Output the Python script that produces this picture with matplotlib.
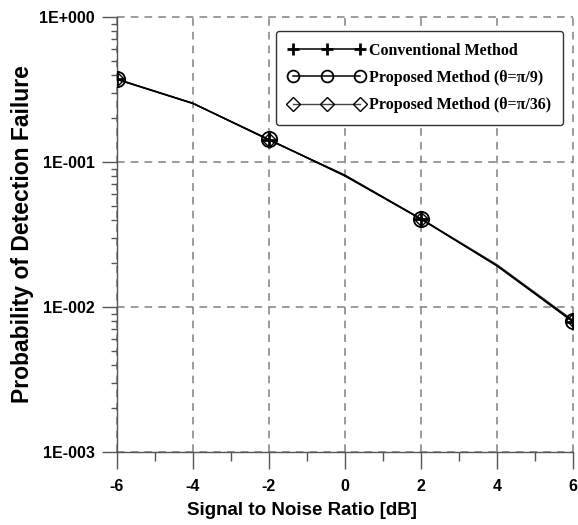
import numpy as np
import matplotlib
matplotlib.use("Agg")
import matplotlib.pyplot as plt
from matplotlib.ticker import FixedLocator, FuncFormatter, LogLocator, NullFormatter

snr = [-6, -4, -2, 0, 2, 4, 6]
conventional = [0.372, 0.254, 0.142, 0.081, 0.0405, 0.0192, 0.0079]
proposed_9 = [0.371, 0.253, 0.143, 0.080, 0.0404, 0.0193, 0.0080]
proposed_36 = [0.373, 0.254, 0.142, 0.081, 0.0406, 0.0196, 0.0081]
labels = ["Conventional Method",
          "Proposed Method (\u03b8=\u03c0/9)",
          "Proposed Method (\u03b8=\u03c0/36)"]

fig = plt.figure(figsize=(5.78, 5.25), dpi=100)
ax = fig.add_axes([117/578, 1-452/525, 456/578, 435/525])

ax.plot(snr, conventional, color="black", lw=1.1, marker="+", ms=11, mew=2,
        markevery=2, label=labels[0], zorder=4)
ax.plot(snr, proposed_9, color="black", lw=1.1, marker="o", ms=11, mew=1.3,
        mfc="none", markevery=2, label=labels[1], zorder=4)
ax.plot(snr, proposed_36, color="#444444", lw=1.0, marker="D", ms=7, mew=1.0,
        mfc="none", mec="black", markevery=2, label=labels[2], zorder=3)

ax.set_yscale("log")
ax.set_xlim(-6, 6)
ax.set_ylim(1e-3, 1)

ax.xaxis.set_major_locator(FixedLocator([-6, -4, -2, 0, 2, 4, 6]))
ax.xaxis.set_minor_locator(FixedLocator([-5, -3, -1, 1, 3, 5]))
ax.yaxis.set_major_locator(FixedLocator([1e-3, 1e-2, 1e-1, 1]))
ax.yaxis.set_minor_locator(LogLocator(base=10, subs=np.arange(2, 10)))
ax.yaxis.set_minor_formatter(NullFormatter())
ax.yaxis.set_major_formatter(FuncFormatter(lambda v, p: "1E%+04d" % int(round(np.log10(v)))))
ax.xaxis.set_major_formatter(FuncFormatter(lambda v, p: "%d" % v))

for s in ["top", "right"]:
    ax.spines[s].set_visible(False)
for s in ["left", "bottom"]:
    ax.spines[s].set_color("#555555")
    ax.spines[s].set_linewidth(1.0)

ax.tick_params(axis="y", which="major", length=11, width=1, color="#555555", pad=5)
ax.tick_params(axis="y", which="minor", length=4.5, width=1, color="#555555")
ax.tick_params(axis="x", which="major", length=12.5, width=1, color="#555555", pad=7)
ax.tick_params(axis="x", which="minor", length=6.5, width=1, color="#555555")
for t in ax.get_xticklabels() + ax.get_yticklabels():
    t.set_fontfamily("Liberation Sans")
    t.set_fontweight("bold")
    t.set_fontsize(11.5)

ax.grid(True, which="major", color="#808080", linestyle=(0, (5, 4)), linewidth=1.1)
for gl in ax.get_xgridlines() + ax.get_ygridlines():
    gl.set_clip_on(False)

ax.set_xlabel("Signal to Noise Ratio [dB]", fontfamily="Liberation Sans",
              fontweight="bold", fontsize=13.5, labelpad=2)
ax.xaxis.set_label_coords(0.405, -0.115)
ax.set_ylabel("Probability of Detection Failure", fontfamily="Liberation Sans",
              fontweight="bold", fontsize=16.5, labelpad=4)

leg = ax.legend(loc="upper right", bbox_to_anchor=(0.978, 0.968), borderaxespad=0,
                numpoints=3, handlelength=4.8, handletextpad=0.25, labelspacing=0.7,
                borderpad=0.75, fancybox=True, framealpha=1,
                edgecolor="#333333",
                prop={"family": "Liberation Serif", "weight": "bold", "size": 11.5})
leg.get_frame().set_linewidth(1.0)
leg.set_zorder(5)
# legend markers a bit smaller than the plotted ones
for h, ms in zip(leg.legend_handles, [9, 8.5, 7.5]):
    h.set_markersize(ms)

fig.savefig("out.png", dpi=100)
